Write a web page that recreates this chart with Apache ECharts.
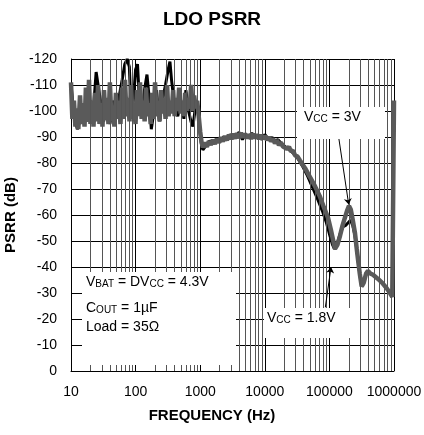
<!DOCTYPE html>
<html>
<head>
<meta charset="utf-8">
<script src="https://cdn.jsdelivr.net/npm/echarts@6/dist/echarts.min.js"></script>
<style>
  html, body { margin: 0; padding: 0; background: #fff; overflow: hidden; }
  #chart { width: 424px; height: 435px; }
</style>
</head>
<body>
<div id="chart"></div>
<script>
// 数据 (Hz, dB)
const xTickLabels = ["10", "100", "1000", "10000", "100000", "1000000"];

const freq3V = [10, 10.5, 11.1, 11.7, 12.4, 13, 13.8, 14.5, 15.3, 16.2, 17, 18, 19, 20, 21.1, 22.3, 23.5, 24.8,
  26.2, 27.6, 29.1, 30.7, 32.4, 34.2, 36, 38, 40, 42.3, 44.6, 47, 49.6, 52.4, 55.3, 58.3, 61.5, 65, 68.5,
  72.3, 76.3, 80.5, 85, 89.6, 94.5, 99.7, 105, 111, 117, 124, 131, 138, 145, 153, 162, 171, 180, 190, 200,
  211, 223, 235, 248, 262, 276, 291, 307, 324, 342, 361, 381, 402, 424, 447, 472, 498, 525, 554, 585, 617,
  651, 687, 725, 765, 807, 851, 898, 940, 1000, 1050,
  1100, 1180, 1270, 1360, 1460, 1570, 1690, 1810, 1950, 2090, 2250, 2410, 2590, 2780, 2990, 3210, 3450,
  3700, 3980, 4270, 4590, 4930, 5290, 5680, 6100, 6550, 7040, 7560, 8120, 8720, 9360, 10050, 10800, 11600,
  12450, 13370, 14360, 15420, 16560, 17790, 19100, 20500, 22000, 23700, 25400, 27300, 29300,
  32000, 35000, 42000, 50000, 60000, 71500, 82000, 95000, 105000, 114000, 122000,
  133000, 146000, 160000, 174000, 190000, 201000, 215000, 230000, 249000, 265000, 277000, 295000,
  316000, 340000, 370000, 396000, 430000, 473000, 560000, 652000, 760000, 867000, 940000, 975000, 1000000];
const psrr3V = [-111, -97, -104, -94, -101, -93, -106, -95, -103, -94, -109, -96, -112, -95, -104, -94, -107, -96,
  -110, -95, -103, -94, -108, -97, -105, -95, -111, -96, -102, -94, -107, -97, -104, -95, -109, -97, -112,
  -98, -105, -96, -110, -97, -103, -95, -108, -98, -111, -97, -104, -96, -109, -98, -103, -95, -107, -97, -111,
  -98, -104, -96, -108, -99, -105, -97, -110, -98, -104, -99, -108, -98, -105, -100, -109, -99, -104, -98, -107, -100,
  -105, -101, -110, -100, -106, -101, -104, -99, -92, -88,
  -86, -87.8, -86.2, -88.4, -87, -88.9, -87.3, -89.3, -87.8, -89.9, -88.3, -90.4, -88.7, -90.9, -89.2, -91.2, -89.4,
  -91.4, -89.6, -91.6, -89.8, -91.3, -89.5, -91, -89.3, -91.2, -89.5, -91, -89.2, -90.8, -89.3, -90.5, -88.8, -90,
  -88.3, -89.4, -87.6, -88.8, -86.9, -87.9, -86.3, -87, -85.5, -86.2, -84.5, -84.8, -83,
  -82.5, -81, -78, -74.6, -71, -67, -63, -59, -54.5, -50.4, -47,
  -48.5, -52, -56, -59, -62, -63.5, -62, -58, -53, -47, -43, -37.5,
  -32.5, -34, -37.5, -38.5, -37.5, -37, -35.5, -34, -32, -30, -28.5, -28, -104];

const freq18V = [10, 11, 12.5, 14, 16, 18, 20, 22, 24.5, 27, 29, 32, 36, 40, 45, 50, 56, 62, 68, 74,
  80, 86, 93, 100, 107, 115, 125, 137, 150, 165, 175, 190, 210, 235, 260, 290, 320, 340, 360, 400,
  450, 500, 560, 600, 660, 720, 770, 830, 900, 950, 1000, 1050, 1100, 1250, 1400, 1600, 1800, 2000,
  2300, 2600, 2900, 3200, 3600, 4000, 4500, 5000, 5600, 6300, 7100, 8000, 9000, 10000, 11500, 13000,
  14500, 16000, 18000, 20000, 23000, 27000, 32000, 38000, 45000, 55000, 66000, 78000, 90000, 102000,
  112000, 120000, 128000, 138000, 150000, 163000, 178000, 195000, 212000, 230000, 249000, 265000,
  277000, 295000, 316000, 340000, 370000, 396000, 430000, 473000, 560000, 652000, 760000, 867000, 940000];
const psrr18V = [-110, -100, -93, -97, -102, -96, -104, -99, -115, -108, -103, -96, -101, -95, -104, -98, -106, -112, -118, -120,
  -117, -98, -105, -116, -118, -103, -97, -108, -114, -103, -93, -99, -108, -96, -104, -110, -116, -119, -112, -102,
  -98, -104, -97, -108, -100, -96, -94, -100, -103, -97, -91, -87, -85, -87, -88.5, -87.5, -89, -88,
  -90, -88.8, -91, -89.5, -90.5, -91.8, -89, -91, -90, -91.5, -89.8, -90.6, -89, -91, -89, -89.8,
  -88.5, -89, -87.5, -86.5, -85.5, -84, -82, -79, -75.5, -70.5, -66, -61.5, -57, -52,
  -48.5, -47, -48, -50.5, -53.5, -55.5, -56, -57, -58, -56, -52, -47,
  -43, -37.5, -32.5, -34, -37.5, -38.5, -37.5, -37, -35.5, -34, -32, -30, -28.5];

// 次网格线位置 (2..9 每个十倍频程)
const minorGrid = [];
for (let d = 10; d < 1000000; d *= 10) {
  for (let k = 2; k <= 9; k++) minorGrid.push(d * k);
}

const font = "Liberation Sans, Arial, sans-serif";
const pairs = (xs, ys) => xs.map((x, i) => [x, ys[i]]);

const rich = {
  n: { fontSize: 14, fontFamily: font, color: "#000", lineHeight: 17, verticalAlign: "bottom" },
  s: { fontSize: 10, fontFamily: font, color: "#000", lineHeight: 11, verticalAlign: "bottom" }
};

function box(x, y, w, h) {
  return { type: "rect", left: x, top: y, zlevel: 1, shape: { width: w, height: h }, style: { fill: "#fff" } };
}
function label(x, y, text) {
  return { type: "text", left: x, top: y, zlevel: 1, z: 1, style: { text: text, rich: rich, fill: "#000" } };
}

const chart = echarts.init(document.getElementById("chart"));
chart.setOption({
  animation: false,
  backgroundColor: "#fff",
  title: [
    {
      text: "LDO PSRR",
      left: "center",
      top: 5,
      textStyle: { fontSize: 19, fontWeight: "bold", fontFamily: font, color: "#000" }
    },
    {
      text: "FREQUENCY (Hz)",
      left: "center",
      top: 403,
      textStyle: { fontSize: 15, fontWeight: "bold", fontFamily: font, color: "#000" }
    }
  ],
  grid: { left: 71, right: 30, top: 59, bottom: 64, outerBoundsMode: "none" },
  xAxis: {
    type: "log",
    logBase: 10,
    min: 10,
    max: 1000000,
    axisLine: { lineStyle: { color: "#000", width: 1 } },
    axisTick: { show: false },
    axisLabel: {
      fontSize: 14, fontFamily: font, color: "#000", margin: 14,
      formatter: v => xTickLabels[Math.round(Math.log10(v)) - 1]
    },
    splitLine: { show: true, lineStyle: { color: "#000", width: 1 } }
  },
  yAxis: {
    type: "value",
    inverse: true,
    min: -120,
    max: 0,
    interval: 10,
    name: "PSRR (dB)",
    nameLocation: "middle",
    nameGap: 46,
    nameTextStyle: { fontSize: 15, fontWeight: "bold", fontFamily: font, color: "#000" },
    axisLine: { show: true, lineStyle: { color: "#000", width: 1 } },
    axisTick: { show: false },
    axisLabel: { fontSize: 14, fontFamily: font, color: "#000", margin: 14 },
    splitLine: { show: true, lineStyle: { color: "#000", width: 1 } }
  },
  graphic: [
    box(82, 272, 154, 93),
    box(264, 308, 96, 30),
    box(297, 107, 88, 32),
    label(86, 275, "{n|V}{s|BAT}{n| = DV}{s|CC}{n| = 4.3V}"),
    label(86, 301, "{n|C}{s|OUT}{n| = 1µF}"),
    label(86, 320, "{n|Load = 35Ω}"),
    label(267, 311, "{n|V}{s|CC}{n| = 1.8V}"),
    label(304, 110, "{n|V}{s|CC}{n| = 3V}")
  ],
  series: [
    {
      name: "grid",
      type: "line",
      data: [],
      z: 1,
      silent: true,
      markLine: {
        silent: true,
        symbol: "none",
        label: { show: false },
        lineStyle: { color: "#555", width: 1, type: "solid" },
        data: minorGrid.map(v => ({ xAxis: v }))
      }
    },
    {
      name: "VCC = 1.8V",
      type: "line",
      data: pairs(freq18V, psrr18V),
      showSymbol: false,
      z: 2,
      lineStyle: { color: "#000", width: 3 }
    },
    {
      name: "VCC = 3V",
      type: "line",
      data: pairs(freq3V, psrr3V),
      showSymbol: false,
      z: 2,
      lineStyle: { color: "#5a5a5a", width: 4.5 }
    },
    {
      name: "arrows",
      type: "line",
      data: [],
      z: 5,
      markLine: {
        silent: true,
        symbol: ["none", "arrow"],
        symbolSize: 6,
        label: { show: false },
        lineStyle: { color: "#000", width: 1, type: "solid" },
        data: [
          [{ coord: [139000, -90] }, { coord: [199000, -64] }],
          [{ coord: [86500, -24.5] }, { coord: [106000, -40] }]
        ]
      }
    }
  ]
});
</script>
</body>
</html>
